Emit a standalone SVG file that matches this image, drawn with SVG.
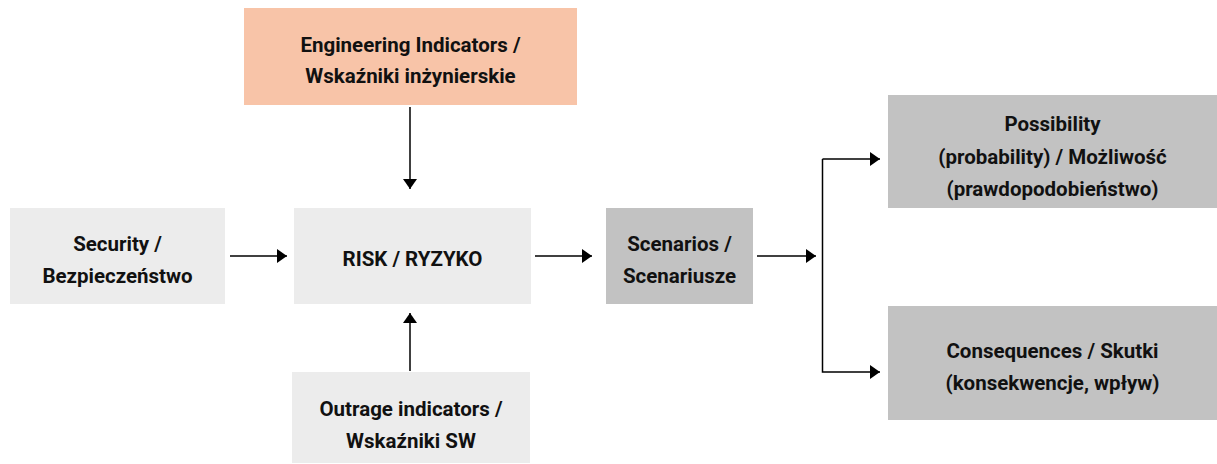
<svg xmlns="http://www.w3.org/2000/svg" width="1217" height="464" viewBox="0 0 1217 464">
<style>
.t{font-family:Roboto,"Liberation Sans",sans-serif;font-weight:700;font-size:20.5px;fill:#111;text-anchor:middle}
.l{fill:#ececec}
.d{fill:#c2c2c2}
.c{stroke:#000;stroke-width:1.5;fill:none}
</style>
<defs>
<marker id="a" viewBox="0 0 10 14" refX="10" refY="7" markerWidth="10" markerHeight="14" markerUnits="userSpaceOnUse" orient="auto">
<path d="M0,0 L10,7 L0,14 Z" fill="#000"/>
</marker>
</defs>
<rect width="1217" height="464" fill="#fff"/>
<g id="engineering">
<rect x="244" y="8" width="333" height="97" fill="#f8c4a8"/>
<text class="t" x="410.5" y="52">Engineering Indicators /</text>
<text class="t" x="410.5" y="83">Wskaźniki inżynierskie</text>
</g>
<g id="security">
<rect class="l" x="10" y="208" width="215" height="96"/>
<text class="t" x="117.5" y="251">Security /</text>
<text class="t" x="117.5" y="283">Bezpieczeństwo</text>
</g>
<g id="risk">
<rect class="l" x="294" y="208" width="237" height="96"/>
<text class="t" x="412.5" y="266">RISK / RYZYKO</text>
</g>
<g id="outrage">
<rect class="l" x="292" y="372" width="238" height="91"/>
<text class="t" x="411" y="416">Outrage indicators /</text>
<text class="t" x="411" y="448">Wskaźniki SW</text>
</g>
<g id="scenarios">
<rect class="d" x="606" y="208" width="147" height="96"/>
<text class="t" x="679.5" y="251">Scenarios /</text>
<text class="t" x="679.5" y="283">Scenariusze</text>
</g>
<g id="possibility">
<rect class="d" x="888" y="95" width="329" height="113"/>
<text class="t" x="1052.5" y="131">Possibility</text>
<text class="t" x="1052.5" y="164">(probability) / Możliwość</text>
<text class="t" x="1052.5" y="196">(prawdopodobieństwo)</text>
</g>
<g id="consequences">
<rect class="d" x="888" y="306" width="329" height="114"/>
<text class="t" x="1052.5" y="358">Consequences / Skutki</text>
<text class="t" x="1052.5" y="390">(konsekwencje, wpływ)</text>
</g>
<g id="connectors">
<path class="c" d="M410,107 V189" marker-end="url(#a)"/>
<path class="c" d="M410,371 V313" marker-end="url(#a)"/>
<path class="c" d="M230,256 H287" marker-end="url(#a)"/>
<path class="c" d="M535,256 H592" marker-end="url(#a)"/>
<path class="c" d="M757,256 H816" marker-end="url(#a)"/>
<path class="c" d="M822.5,159 V372 H880" marker-end="url(#a)"/>
<path class="c" d="M822.5,159 H880" marker-end="url(#a)"/>
</g>
</svg>
